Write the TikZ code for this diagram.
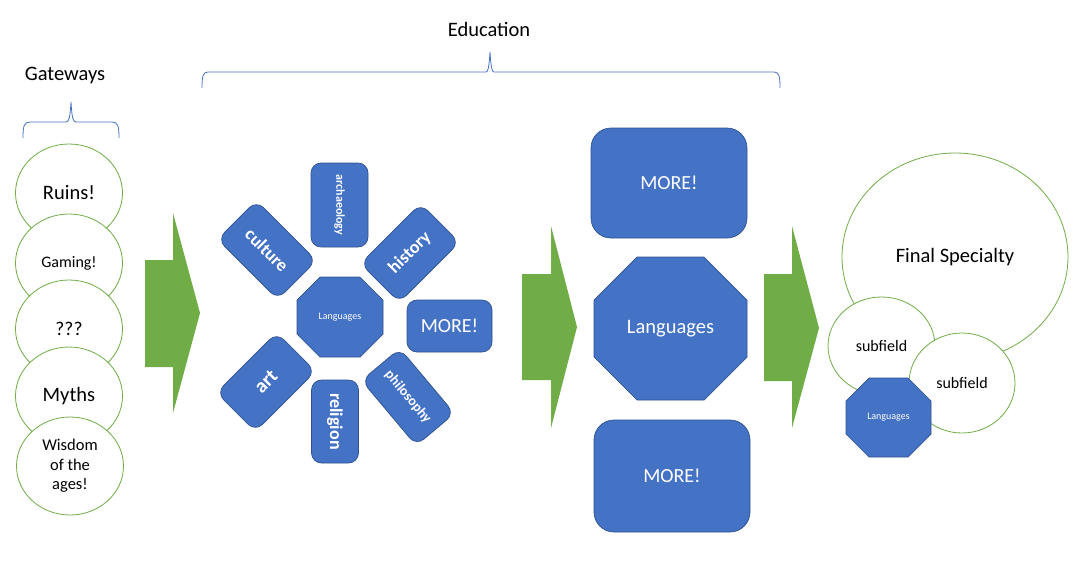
\documentclass[tikz,border=0pt]{standalone}
\usepackage{fontspec}
\setmainfont{Carlito}
\usetikzlibrary{shapes.geometric}
\definecolor{gr}{HTML}{70AD47}
\definecolor{bl}{HTML}{4472C4}
\definecolor{bd}{HTML}{2F528F}
\newcommand\octpath[5]{\draw[octo,shift={(#1,#2)}] ({-#3},{-#4+#5}) -- ({-#3+#5},{-#4}) -- ({#3-#5},{-#4}) -- ({#3},{-#4+#5}) -- ({#3},{#4-#5}) -- ({#3-#5},{#4}) -- ({-#3+#5},{#4}) -- ({-#3},{#4-#5}) -- cycle;}
\begin{document}
\begin{tikzpicture}[x=1pt,y=-1pt,
  circ/.style={ellipse, draw=gr, fill=white, line width=0.8pt, minimum width=107pt, minimum height=98pt, inner sep=0pt, align=center},
  bbox/.style={draw=bd, fill=bl, line width=0.7pt, rounded corners=10pt, text=white, inner sep=0pt, font=\bfseries},
  octo/.style={draw=bd, fill=bl, line width=0.7pt},
  wtext/.style={text=white, inner sep=0pt},
  garrow/.style={fill=gr, draw=none},
  brace/.style={draw=bl, line width=0.8pt},
  lbl/.style={font=\fontsize{20.5}{24}\selectfont, inner sep=0pt}]
\useasboundingbox (0,0) rectangle (1079,579);

% braces and labels
\node[lbl] (gw) at (65,75) {Gateways};
\node[lbl] (edu) at (489,29) {Education};
\draw[brace] (23,138) .. controls (23,126) and (24,122) .. (30,122) -- (66,122) .. controls (69,122) and (70,118) .. (71,102) .. controls (72,118) and (73,122) .. (76,122) -- (112,122) .. controls (118,122) and (119,126) .. (119,138);
\draw[brace] (202,88) .. controls (202,76) and (203,72) .. (208,72) -- (486,72) .. controls (488,72) and (489,68) .. (490,52) .. controls (491,68) and (492,72) .. (494,72) -- (774,72) .. controls (779,72) and (780,76) .. (780,88);

% gateway circles
\node[circ, font=\fontsize{20.5}{24}\selectfont] (ruins) at (69,193) {Ruins!};
\node[circ, font=\fontsize{16}{19}\selectfont] (gaming) at (69,263) {Gaming!};
\node[circ, font=\fontsize{19.5}{23}\selectfont] (qqq) at (69,329) {???};
\node[circ, font=\fontsize{20.5}{24}\selectfont] (myths) at (69,396) {Myths};
\node[circ, font=\fontsize{16.5}{19.5}\selectfont] (wisdom) at (70,466) {Wisdom\\of the\\ages!};

% green arrows
\fill[garrow] (145,260) -- (173,260) -- (173,213) -- (200,313) -- (173,413) -- (173,367) -- (145,367) -- cycle;
\fill[garrow] (522,274) -- (551,274) -- (551,226) -- (577,327) -- (551,428) -- (551,380) -- (522,380) -- cycle;
\fill[garrow] (764,274) -- (792,274) -- (792,226) -- (819,328) -- (792,428) -- (792,381) -- (764,381) -- cycle;

% centre cluster
\node[bbox, minimum width=84pt, minimum height=57pt, rotate=-90, font=\bfseries\fontsize{12}{14}\selectfont] (arch) at (339.5,205) {archaeology};
\node[bbox, minimum width=85pt, minimum height=55pt, rotate=-45, font=\bfseries\fontsize{18}{21}\selectfont] (cult) at (267,250) {culture};
\node[bbox, minimum width=85pt, minimum height=55pt, rotate=45, font=\bfseries\fontsize{18}{21}\selectfont] (hist) at (410,253) {history};
\octpath{340}{317}{43}{40}{23}
\node[wtext, font=\fontsize{10}{12}\selectfont] (lang1) at (340,317) {Languages};
\node[bbox, minimum width=85pt, minimum height=52pt, font=\fontsize{20}{24}\selectfont] (more1) at (449.5,326) {MORE!};
\node[bbox, minimum width=85pt, minimum height=55pt, rotate=45, font=\bfseries\fontsize{20}{24}\selectfont] (art) at (266,382) {art};
\node[bbox, minimum width=83pt, minimum height=47pt, rotate=-90, font=\bfseries\fontsize{18}{21}\selectfont] (rel) at (335,421.5) {religion};
\node[bbox, minimum width=85pt, minimum height=50pt, rotate=-50, font=\bfseries\fontsize{14}{16}\selectfont] (phil) at (408,397) {philosophy};

% middle column
\node[bbox, rounded corners=20pt, minimum width=156pt, minimum height=110pt, font=\fontsize{20}{24}\selectfont] (more2) at (669,183) {MORE!};
\octpath{670.5}{328.5}{76.5}{71.5}{43}
\node[wtext, font=\fontsize{20.5}{24}\selectfont] (lang2) at (670.5,328.5) {Languages};
\node[bbox, rounded corners=20pt, minimum width=156pt, minimum height=112pt, font=\fontsize{20}{24}\selectfont] (more3) at (672,476) {MORE!};

% final specialty
\node[circ, minimum width=226pt, minimum height=208pt, font=\fontsize{20.5}{24}\selectfont] (final) at (955,257) {Final Specialty};
\node[circ, minimum width=107pt, minimum height=98pt, font=\fontsize{16}{19}\selectfont] (sub1) at (881.5,346) {subfield};
\node[circ, minimum width=106pt, minimum height=100pt, font=\fontsize{16}{19}\selectfont] (sub2) at (962,383) {subfield};
\octpath{888.5}{417.5}{42.5}{39.5}{23}
\node[wtext, font=\fontsize{10}{12}\selectfont] (lang3) at (888.5,417.5) {Languages};
\end{tikzpicture}
\end{document}
